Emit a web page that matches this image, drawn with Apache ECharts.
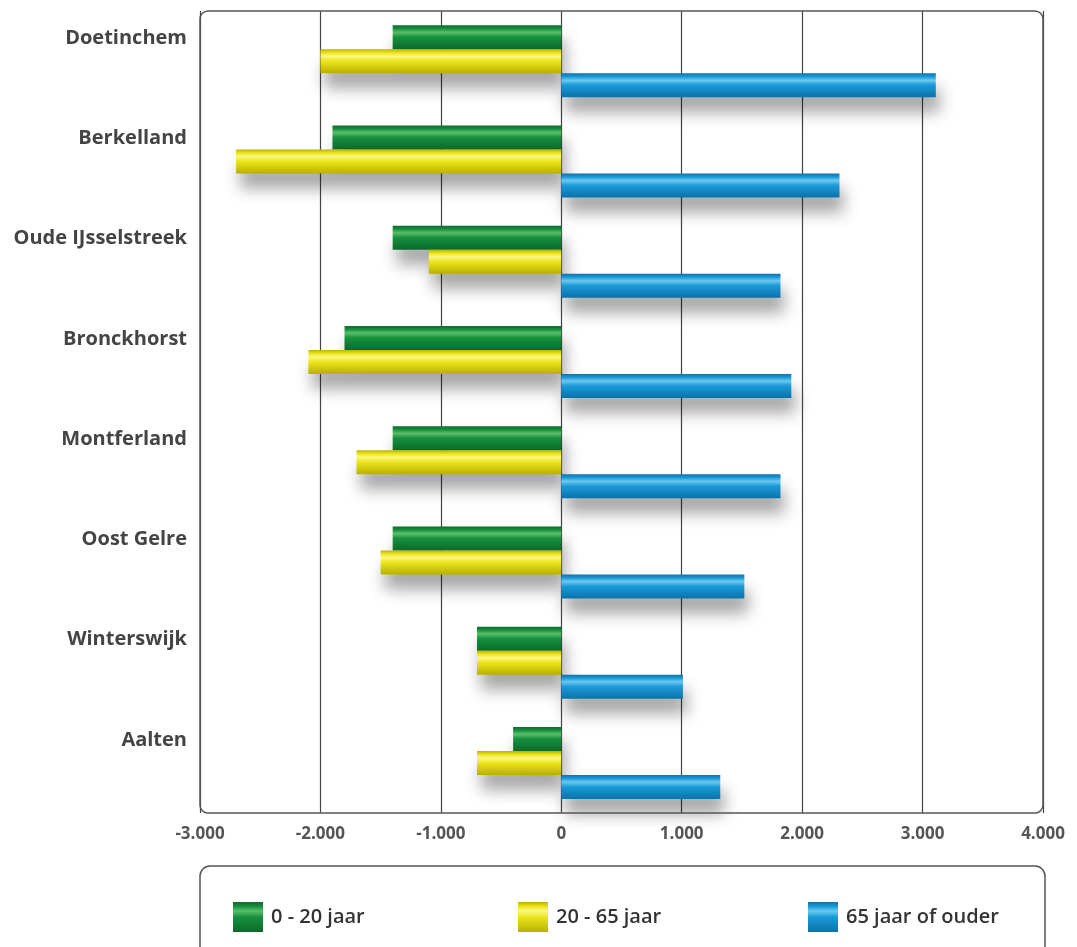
<!DOCTYPE html>
<html>
<head>
<meta charset="utf-8">
<script src="https://cdn.jsdelivr.net/npm/echarts@6/dist/echarts.min.js"></script>
<style>
  html, body { margin: 0; padding: 0; background: #fff; }
  #chart { width: 1077px; height: 947px; }
</style>
</head>
<body>
<div id="chart"></div>
<script>
const gemeenten = ['Doetinchem', 'Berkelland', 'Oude IJsselstreek', 'Bronckhorst', 'Montferland', 'Oost Gelre', 'Winterswijk', 'Aalten']
const jong = [-1400, -1900, -1400, -1800, -1400, -1400, -700, -400]
const midden = [-2000, -2700, -1100, -2100, -1700, -1500, -700, -700]
const oud = [3110, 2310, 1820, 1910, 1820, 1520, 1010, 1320]
const seriesNames = ['0 - 20 jaar', '20 - 65 jaar', '65 jaar of ouder']

function tube (top, mid, bottom) {
  return new echarts.graphic.LinearGradient(0, 0, 0, 1, [
    { offset: 0, color: bottom },
    { offset: 0.15, color: mid },
    { offset: 0.3, color: top },
    { offset: 0.5, color: mid },
    { offset: 1, color: bottom }
  ])
}

function bar (name, data, color) {
  return {
    name: name,
    type: 'bar',
    data: data,
    barWidth: 24,
    barGap: '0%',
    itemStyle: {
      color: color,
      shadowColor: 'rgba(0,0,0,0.35)',
      shadowBlur: 16,
      shadowOffsetY: 15,
      shadowOffsetX: 4
    }
  }
}

function legendAt (left, name) {
  return {
    left: left,
    top: 897,
    data: [name],
    icon: 'rect',
    itemWidth: 30,
    itemHeight: 30,
    selectedMode: false,
    textStyle: { fontFamily: 'Open Sans', fontSize: 20, fontWeight: 600, color: '#333', padding: [0, 0, 0, 3] }
  }
}

const chart = echarts.init(document.getElementById('chart'))
chart.setOption({
  backgroundColor: '#fff',
  animation: false,
  grid: { left: 200, right: 34, top: 11, bottom: 134 },
  legend: [
    legendAt(228, seriesNames[0]),
    legendAt(513, seriesNames[1]),
    legendAt(803, seriesNames[2])
  ],
  xAxis: {
    type: 'value',
    min: -3000,
    max: 4000,
    interval: 1000,
    axisLine: { show: false },
    axisTick: { show: false },
    splitLine: { lineStyle: { color: '#444', width: 1.2 } },
    axisLabel: {
      margin: 13,
      fontFamily: 'Open Sans',
      fontSize: 17,
      fontWeight: 'bold',
      color: '#555',
      formatter: v => v === 0 ? '0' : (v < 0 ? '-' : '') + Math.abs(v / 1000) + '.000'
    }
  },
  yAxis: {
    type: 'category',
    inverse: true,
    data: gemeenten,
    axisLine: { show: false },
    axisTick: { show: false },
    axisLabel: {
      margin: 13,
      fontFamily: 'Open Sans',
      fontSize: 20,
      fontWeight: 'bold',
      color: '#444',
      lineHeight: 23,
      formatter: v => v + '\n\n'
    }
  },
  graphic: [
    {
      type: 'rect',
      shape: { x: 200, y: 11, width: 843, height: 802, r: 8 },
      style: { fill: null, stroke: '#555', lineWidth: 1.5 },
      z: 100
    },
    {
      type: 'rect',
      shape: { x: 200, y: 866, width: 845, height: 110, r: 10 },
      style: { fill: null, stroke: '#555', lineWidth: 1.5 },
      z: 100
    }
  ],
  series: [
    bar(seriesNames[0], jong, tube('#5cbf6a', '#16903e', '#0b6a2b')),
    bar(seriesNames[1], midden, tube('#fbf784', '#ece51a', '#b9b000')),
    bar(seriesNames[2], oud, tube('#6cc9f0', '#1b9ad8', '#0b72ab'))
  ]
})
</script>
</body>
</html>
